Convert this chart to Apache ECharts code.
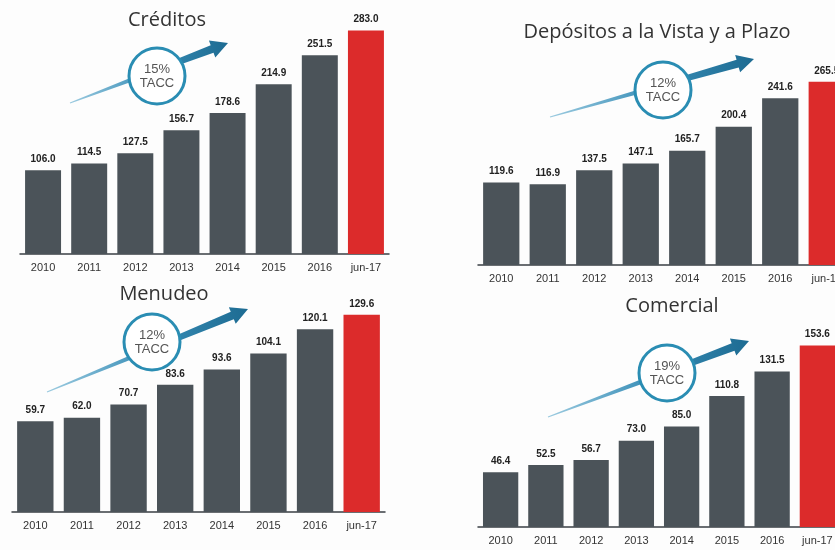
<!DOCTYPE html>
<html>
<head>
<meta charset="utf-8">
<script src="https://cdn.jsdelivr.net/npm/echarts@6/dist/echarts.min.js"></script>
<style>
  html, body { margin: 0; padding: 0; background: #fdfdfd; }
  #main { width: 835px; height: 550px; }
</style>
</head>
<body>
<div id="main"></div>
<script>
// categorias y valores (miles de millones)
var years = ['2010', '2011', '2012', '2013', '2014', '2015', '2016', 'jun-17'];
var creditos = [106.0, 114.5, 127.5, 156.7, 178.6, 214.9, 251.5, 283.0];
var depositos = [119.6, 116.9, 137.5, 147.1, 165.7, 200.4, 241.6, 265.5];
var menudeo = [59.7, 62.0, 70.7, 83.6, 93.6, 104.1, 120.1, 129.6];
var comercial = [46.4, 52.5, 56.7, 73.0, 85.0, 110.8, 131.5, 153.6];
var titles = ['Créditos', 'Depósitos a la Vista y a Plazo', 'Menudeo', 'Comercial'];
var taccs = ['15%', '12%', '12%', '19%'];

var GRAY = '#4b5359';
var RED = '#dc2b2b';
var TEAL = '#2a8db3';

// layout de cada panel
var panels = [
	{ data: creditos,  grid: { left: 20,  top: 17,  width: 369, height: 237 }, max: 300, title: [167, 10], circle: [157, 76], arrow: [70, 103, 228, 43] },
	{ data: depositos, grid: { left: 478, top: 58,  width: 372, height: 207 }, max: 300, title: [657, 22], circle: [663, 90], arrow: [550, 117, 754, 59] },
	{ data: menudeo,   grid: { left: 12,  top: 299, width: 373, height: 213 }, max: 140, title: [164, 284], circle: [152, 342], arrow: [47, 392, 248, 309] },
	{ data: comercial, grid: { left: 478, top: 326, width: 362, height: 201 }, max: 170, title: [672, 296], circle: [667, 373], arrow: [548, 417, 749, 341] }
];

function arrowPoints(a) {
	var x0 = a[0], y0 = a[1], x1 = a[2], y1 = a[3];
	var len = Math.sqrt((x1 - x0) * (x1 - x0) + (y1 - y0) * (y1 - y0));
	var ux = (x1 - x0) / len, uy = (y1 - y0) / len;
	var nx = -uy, ny = ux;
	var bx = x1 - ux * 17, by = y1 - uy * 17;
	return [
		[x0 + nx * 0.5, y0 + ny * 0.5],
		[bx + nx * 4, by + ny * 4],
		[bx + nx * 9, by + ny * 9],
		[x1, y1],
		[bx - nx * 9, by - ny * 9],
		[bx - nx * 4, by - ny * 4],
		[x0 - nx * 0.5, y0 - ny * 0.5]
	];
}

var grids = [], xAxes = [], yAxes = [], series = [], graphics = [];

panels.forEach(function (p, i) {
	var g = p.grid;
	g.outerBoundsMode = 'none';
	g.containLabel = false;
	grids.push(g);
	xAxes.push({
		type: 'category',
		gridIndex: i,
		data: years,
		axisLine: { lineStyle: { color: '#3a3f44', width: 1.5 } },
		axisTick: { show: false },
		axisLabel: { color: '#333', fontSize: 11, margin: 8, fontFamily: 'Liberation Sans' }
	});
	yAxes.push({
		type: 'value',
		gridIndex: i,
		min: 0,
		max: p.max,
		show: false,
		splitLine: { show: false }
	});
	series.push({
		type: 'bar',
		xAxisIndex: i,
		yAxisIndex: i,
		barCategoryGap: '22%',
		itemStyle: { color: GRAY },
		label: {
			show: true,
			position: 'top',
			distance: 6,
			color: '#222',
			fontSize: 10,
			fontWeight: 'bold',
			fontFamily: 'Liberation Sans',
			formatter: function (d) { return d.value.toFixed(1); }
		},
		data: p.data.map(function (v, k) {
			return k === p.data.length - 1 ? { value: v, itemStyle: { color: RED } } : v;
		})
	});

	graphics.push({
		type: 'text',
		x: p.title[0],
		y: p.title[1],
		style: {
			text: titles[i],
			fill: '#333',
			font: '20px "Open Sans"',
			textAlign: 'center'
		}
	});
	graphics.push({
		type: 'polygon',
		shape: { points: arrowPoints(p.arrow) },
		style: {
			fill: new echarts.graphic.LinearGradient(0, 0, 1, 0, [
				{ offset: 0, color: '#9ccbe0' },
				{ offset: 0.5, color: '#3a8fb8' },
				{ offset: 1, color: '#1d6b92' }
			])
		}
	});
	graphics.push({
		type: 'circle',
		shape: { cx: p.circle[0], cy: p.circle[1], r: 28 },
		style: { fill: '#fff', stroke: TEAL, lineWidth: 3 }
	});
	graphics.push({
		type: 'text',
		x: p.circle[0],
		y: p.circle[1],
		style: {
			text: taccs[i] + '\nTACC',
			fill: '#555',
			font: '13px "Liberation Sans"',
			lineHeight: 14,
			textAlign: 'center',
			textVerticalAlign: 'middle'
		}
	});
});

var chart = echarts.init(document.getElementById('main'));
chart.setOption({
	backgroundColor: '#fdfdfd',
	animation: false,
	grid: grids,
	xAxis: xAxes,
	yAxis: yAxes,
	series: series,
	graphic: graphics
});
</script>
</body>
</html>
